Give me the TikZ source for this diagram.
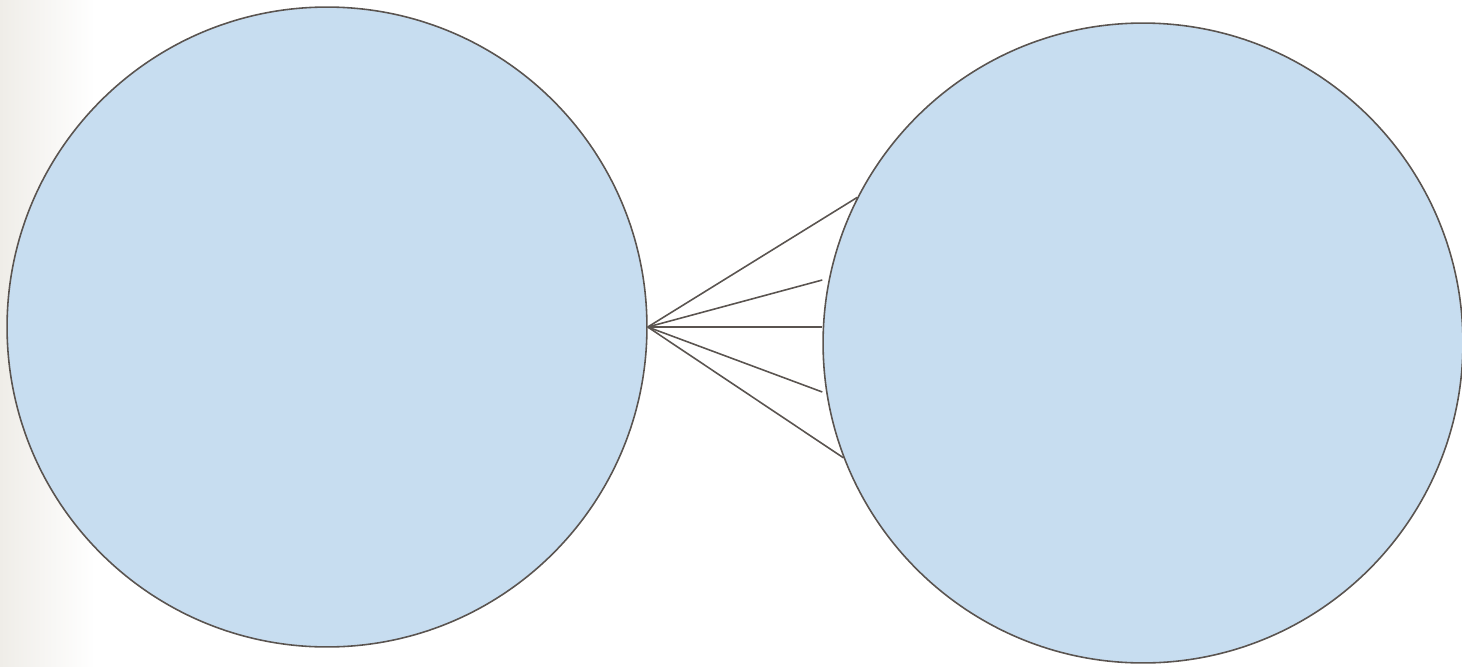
\documentclass[tikz,border=0pt]{standalone}
\usetikzlibrary{calc}
\definecolor{setfill}{HTML}{C7DDF0}
\definecolor{setline}{HTML}{5A5450}
\definecolor{edgeshade}{HTML}{EFEDE8}
\tikzstyle{setcircle}=[
	circle,
	draw=setline,
	fill=setfill,
	line width=0.9pt,
	inner sep=0pt,
	minimum size=12.8cm
]
\tikzstyle{mapping}=[
	draw=setline,
	line width=0.9pt
]

\begin{document}
\begin{tikzpicture}[x=0.02cm,y=-0.02cm]
\useasboundingbox (0,0) rectangle (1462,666);
\shade[left color=edgeshade, right color=white] (0,0) rectangle (95,666);
\node [setcircle] (Domain) at (327,327) {};
\node [setcircle] (Codomain) at (1143,343) {};
\coordinate (ImageA) at ($(Codomain.west)+(0,-63)$);
\coordinate (ImageB) at ($(Codomain.west)+(0,-16)$);
\coordinate (ImageC) at ($(Codomain.west)+(0,49)$);
\draw [mapping] (Domain.east) -- (Codomain.153.5);
\draw [mapping] (Domain.east) -- (ImageA);
\draw [mapping] (Domain.east) -- (ImageB);
\draw [mapping] (Domain.east) -- (ImageC);
\draw [mapping] (Domain.east) -- (Codomain.201.3);
\end{tikzpicture}
\end{document}
